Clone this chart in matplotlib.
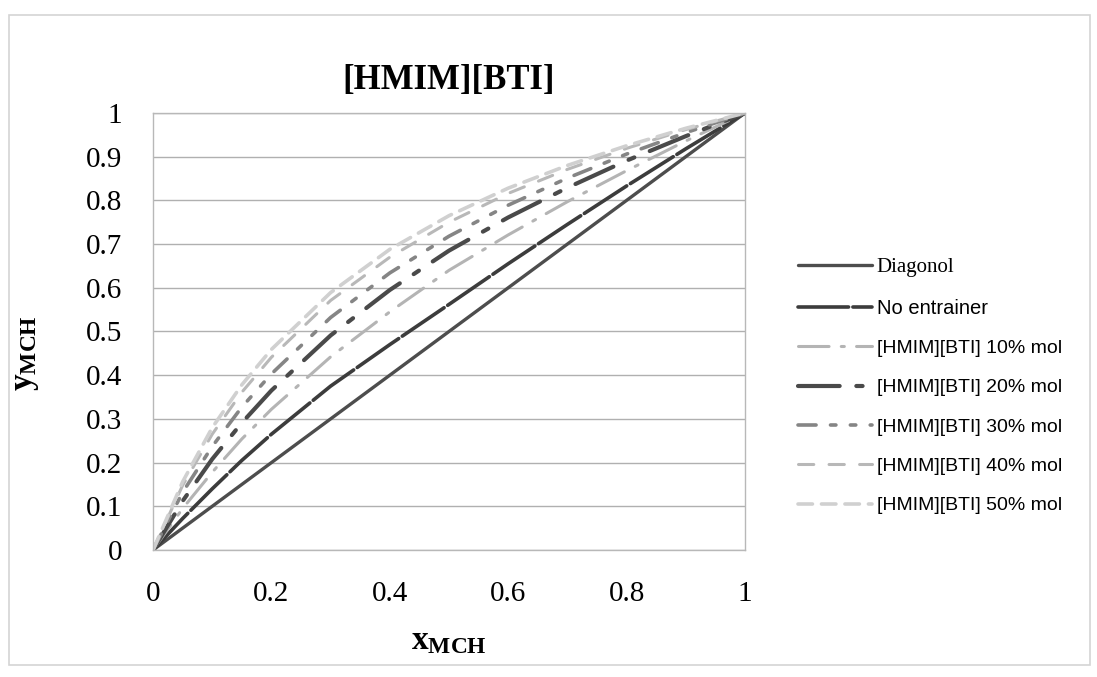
import matplotlib
matplotlib.use('Agg')
from matplotlib import pyplot as plt
from matplotlib.patches import Rectangle

plt.rcParams['mathtext.fontset'] = 'custom'
plt.rcParams['mathtext.rm'] = 'Liberation Serif'
plt.rcParams['mathtext.bf'] = 'Liberation Serif:bold'
plt.rcParams['mathtext.it'] = 'Liberation Serif:italic'

# liquid mole fraction of MCH
x_mch = [0, 0.05, 0.1, 0.15, 0.2, 0.3, 0.4, 0.5, 0.6, 0.7, 0.8, 0.9, 1.0]

diagonal = [0, 0.05, 0.1, 0.15, 0.2, 0.3, 0.4, 0.5, 0.6, 0.7, 0.8, 0.9, 1.0]
no_entrainer = [0, 0.072, 0.14, 0.205, 0.265, 0.375, 0.47, 0.562, 0.655, 0.745, 0.833, 0.918, 1.0]
il_10 = [0, 0.095, 0.178, 0.254, 0.322, 0.442, 0.545, 0.640, 0.721, 0.797, 0.868, 0.936, 1.0]
il_20 = [0, 0.112, 0.208, 0.291, 0.365, 0.491, 0.595, 0.685, 0.761, 0.829, 0.891, 0.947, 1.0]
il_30 = [0, 0.132, 0.237, 0.327, 0.403, 0.532, 0.634, 0.718, 0.789, 0.851, 0.906, 0.955, 1.0]
il_40 = [0, 0.148, 0.265, 0.361, 0.441, 0.571, 0.670, 0.750, 0.816, 0.871, 0.919, 0.962, 1.0]
il_50 = [0, 0.156, 0.280, 0.378, 0.459, 0.589, 0.688, 0.765, 0.828, 0.880, 0.925, 0.965, 1.0]

labels = ['Diagonol', 'No entrainer', '[HMIM][BTI] 10% mol', '[HMIM][BTI] 20% mol',
          '[HMIM][BTI] 30% mol', '[HMIM][BTI] 40% mol', '[HMIM][BTI] 50% mol']

serif = 'Liberation Serif'
sans = 'Liberation Sans'

fig = plt.figure(figsize=(10.97, 6.77), dpi=100)
fig.patches.append(Rectangle((0.008, 0.018), 0.986, 0.96, transform=fig.transFigure,
                             fill=False, edgecolor='#d4d4d4', linewidth=1.2))
ax = fig.add_axes([0.1395, 0.1876, 0.5396, 0.6455])

series = [
    (diagonal, '#4d4d4d', '-', 2.4),
    (no_entrainer, '#3c3c3c', (0, (14, 1.2)), 2.6),
    (il_10, '#b4b4b4', (0, (10, 4, 1, 4)), 2.2),
    (il_20, '#4a4a4a', (0, (10, 4, 1.5, 4)), 3.0),
    (il_30, '#858585', (0, (5, 4, 1.5, 4, 1.5, 4)), 2.6),
    (il_40, '#b8b8b8', (0, (5, 5)), 2.2),
    (il_50, '#d0d0d0', (0, (4, 2.5, 4, 2.5)), 2.6),
]
for (ys, color, ls, lw), label in zip(series, labels):
    ax.plot(x_mch, ys, color=color, linestyle=ls, linewidth=lw, label=label,
            solid_capstyle='round', dash_capstyle='round')

ax.set_xlim(0, 1)
ax.set_ylim(0, 1)
ax.set_xticks([0, 0.2, 0.4, 0.6, 0.8, 1])
ax.set_xticklabels(['0', '0.2', '0.4', '0.6', '0.8', '1'])
ax.set_yticks([i / 10 for i in range(11)])
ax.set_yticklabels(['0'] + ['0.%d' % i for i in range(1, 10)] + ['1'])
ax.tick_params(axis='both', length=0, labelsize=21)
ax.tick_params(axis='x', pad=22)
ax.tick_params(axis='y', pad=22)
for lab in ax.get_xticklabels() + ax.get_yticklabels():
    lab.set_fontfamily(serif)

ax.grid(axis='y', color='#b0b0b0', linewidth=1)
ax.set_axisbelow(True)
for sp in ax.spines.values():
    sp.set_color('#b8b8b8')
    sp.set_linewidth(1)

ax.set_title('[HMIM][BTI]', fontsize=25, fontweight='bold', family=serif, pad=17)
ax.set_xlabel(r'$\mathbf{x_{MCH}}$', fontsize=24, labelpad=12)
ax.set_ylabel(r'$\mathbf{y_{MCH}}$', fontsize=24, labelpad=-2)
ax.yaxis.set_label_coords(-0.19, 0.45)

leg = ax.legend(loc='center left', bbox_to_anchor=(1.06, 0.375), frameon=False,
                prop={'family': sans, 'size': 14}, handlelength=3.8,
                labelspacing=1.12, handletextpad=0.25)
leg.get_texts()[0].set_fontfamily(serif)
leg.get_texts()[0].set_fontsize(15)
leg.get_texts()[1].set_fontsize(14.5)

fig.savefig('out.png', dpi=100)
